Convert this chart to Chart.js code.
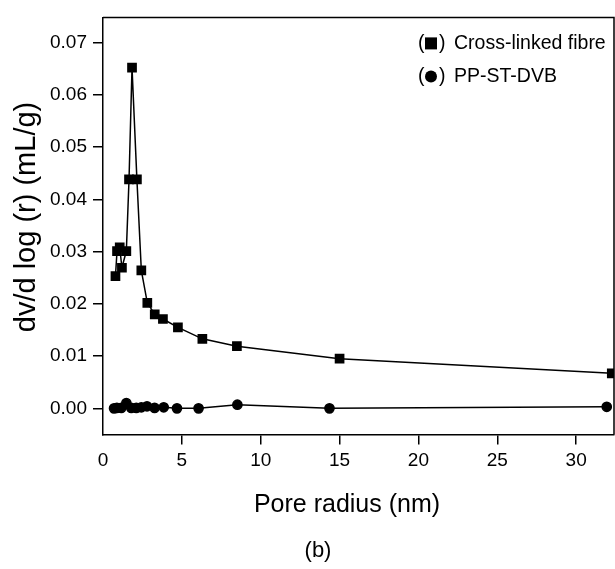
<!DOCTYPE html>
<html>
<head>
<meta charset="utf-8">
<script src="https://cdn.jsdelivr.net/npm/chart.js@4/dist/chart.umd.min.js"></script>
<style>
  html, body { margin: 0; padding: 0; background: #fff; overflow: hidden; }
  canvas { display: block; }
</style>
</head>
<body>
<canvas id="js-pore-chart" width="615" height="569"></canvas>
<script>
  // values
  var fibreX = [0.79, 0.89, 1.06, 1.20, 1.48, 1.65, 1.84, 2.15, 2.43, 2.81, 3.28, 3.80, 4.75, 6.30, 8.49, 15.0, 32.26];
  var fibreY = [0.0253, 0.0301, 0.0308, 0.0269, 0.0301, 0.0438, 0.0652, 0.0438, 0.0264, 0.0202, 0.0180, 0.0171, 0.0155, 0.0133, 0.0119, 0.0095, 0.0067];

  var ppX = [0.70, 0.88, 1.16, 1.48, 1.79, 2.11, 2.43, 2.79, 3.27, 3.85, 4.69, 6.06, 8.52, 14.36, 31.94];
  var ppY = [0.0000, 0.0001, 0.0001, 0.0010, 0.0001, 0.0001, 0.0002, 0.0004, 0.0001, 0.0002, 0.0000, 0.0000, 0.0007, 0.0000, 0.0003];

  var xTicks = [0, 5, 10, 15, 20, 25, 30];
  var yTicks = [0, 0.01, 0.02, 0.03, 0.04, 0.05, 0.06, 0.07];

  var seriesNames = ['Cross-linked fibre', 'PP-ST-DVB'];
  var xTitle = 'Pore radius (nm)';
  var yTitle = 'dv/d log (r) (mL/g)';

  var FONT = "'Liberation Sans', Arial, sans-serif";

  function toPoints(xs, ys) {
    return xs.map(function (x, i) { return {x: x, y: ys[i]}; });
  }

  // top + right frame, axis titles, legend text and the (b) caption
  var extras = {
    id: 'extras',
    afterDraw: function (chart) {
      var ctx = chart.ctx;
      var a = chart.chartArea;
      ctx.save();
      ctx.strokeStyle = '#000';
      ctx.lineWidth = 1.5;
      ctx.beginPath();
      ctx.moveTo(a.left, a.top);
      ctx.lineTo(a.right, a.top);
      ctx.lineTo(a.right, a.bottom);
      ctx.stroke();

      ctx.fillStyle = '#000';
      ctx.textBaseline = 'middle';

      // legend
      ctx.font = '19.5px ' + FONT;
      var lx = a.right - 196;
      var rows = [a.top + 26, a.top + 59];
      rows.forEach(function (y, i) {
        ctx.fillText('(', lx, y);
        if (i === 0) {
          ctx.fillRect(lx + 7, y - 6, 12, 12);
        } else {
          ctx.beginPath();
          ctx.arc(lx + 13, y, 6, 0, Math.PI * 2);
          ctx.fill();
        }
        ctx.fillText(')', lx + 21, y);
        ctx.fillText(seriesNames[i], lx + 36, y);
      });

      // axis titles
      ctx.textAlign = 'center';
      ctx.font = '25px ' + FONT;
      ctx.fillText(xTitle, 347, 505);
      ctx.save();
      ctx.translate(27, 217);
      ctx.rotate(-Math.PI / 2);
      ctx.font = '29px ' + FONT;
      ctx.fillText(yTitle, 0, 0);
      ctx.restore();

      ctx.font = '22px ' + FONT;
      ctx.fillText('(b)', 318, 551);
      ctx.restore();
    }
  };

  var ctx0 = document.getElementById('js-pore-chart').getContext('2d');
  var myChart0 = new Chart(ctx0, {
    type: 'scatter',
    data: {
      datasets: [{
        label: seriesNames[0],
        data: toPoints(fibreX, fibreY),
        showLine: true,
        borderColor: '#000',
        backgroundColor: '#000',
        borderWidth: 1.5,
        pointStyle: 'rect',
        pointRadius: 5.8,
        pointHoverRadius: 5.8
      }, {
        label: seriesNames[1],
        data: toPoints(ppX, ppY),
        showLine: true,
        borderColor: '#000',
        backgroundColor: '#000',
        borderWidth: 1.5,
        pointStyle: 'circle',
        pointRadius: 4.6,
        pointHoverRadius: 4.6
      }]
    },
    options: {
      responsive: false,
      animation: false,
      layout: {
        autoPadding: false,
        padding: {left: 4, top: 15, right: 1, bottom: 0}
      },
      plugins: {
        legend: {display: false},
        tooltip: {enabled: false}
      },
      scales: {
        x: {
          type: 'linear',
          min: 0,
          max: 32.4,
          afterBuildTicks: function (scale) {
            scale.ticks = xTicks.map(function (v) { return {value: v}; });
          },
          afterFit: function (scale) { scale.height = 134.5; },
          ticks: {
            color: '#000',
            font: {family: FONT, size: 19},
            padding: 5,
            maxRotation: 0,
            callback: function (v) { return v.toString(); }
          },
          grid: {
            drawOnChartArea: false,
            drawTicks: true,
            tickLength: 10,
            lineWidth: 1.5,
            color: function (c) { return c.tick && c.tick.value === 0 ? 'rgba(0,0,0,0)' : '#000'; }
          },
          border: {display: true, color: '#000', width: 1.5}
        },
        y: {
          min: -0.005,
          max: 0.0748,
          afterBuildTicks: function (scale) {
            scale.ticks = yTicks.map(function (v) { return {value: v}; });
          },
          afterFit: function (scale) { scale.width = 99; },
          ticks: {
            color: '#000',
            font: {family: FONT, size: 19},
            padding: 6,
            callback: function (v) { return v.toFixed(2); }
          },
          grid: {
            drawOnChartArea: false,
            drawTicks: true,
            tickLength: 10,
            lineWidth: 1.5,
            color: '#000'
          },
          border: {display: true, color: '#000', width: 1.5}
        }
      }
    },
    plugins: [extras]
  });
</script>
</body>
</html>
